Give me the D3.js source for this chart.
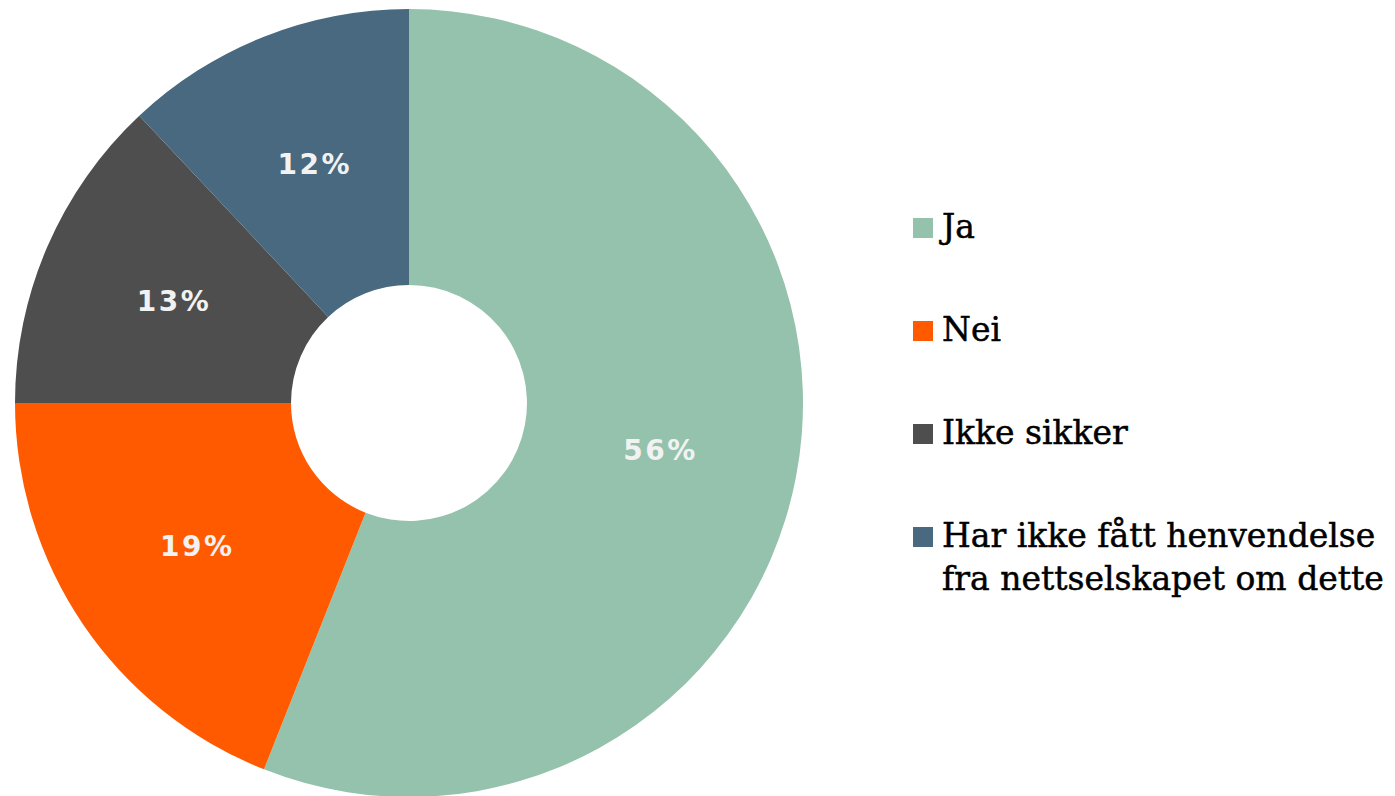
<!DOCTYPE html>
<html lang="no">
<head>
  <meta charset="UTF-8" />
  <title>Henvendelse fra nettselskapet</title>
  <script src="https://d3js.org/d3.v7.min.js"></script>
  <style>
    html, body {
      margin: 0;
      padding: 0;
      background: #fff;
      overflow: hidden;
    }
    .slice-label {
      font-family: "DejaVu Sans", sans-serif;
      font-weight: bold;
      fill: #f2f2f2;
      letter-spacing: 2.5px;
    }
    .legend-text {
      font-family: "DejaVu Serif", serif;
      fill: #000;
      stroke: #000;
      stroke-width: 0.5px;
    }
  </style>
</head>
<body>
  <div id="chart"></div>

  <script>
    // ---- data ----
    const categories = ["Ja", "Nei", "Ikke sikker", "Har ikke fått henvendelse fra nettselskapet om dette"];
    const values = [56, 19, 13, 12];
    const colors = ["#94c2ad", "#ff5a00", "#4e4e4e", "#48697f"];
    // legend text split into lines as in the original
    const legendLines = [
      ["Ja"],
      ["Nei"],
      ["Ikke sikker"],
      ["Har ikke fått henvendelse", "fra nettselskapet om dette"]
    ];

    const width = 1395, height = 796;

    const svg = d3.select("#chart")
      .append("svg")
      .attr("width", width)
      .attr("height", height);

    // donut geometry
    const cx = 409, cy = 403;
    const outerR = 394, innerR = 118;

    const pie = d3.pie().sort(null).value(d => d.value);
    const arc = d3.arc().innerRadius(innerR).outerRadius(outerR);

    const data = categories.map((c, i) => ({ name: c, value: values[i], color: colors[i] }));
    const arcs = pie(data);

    const g = svg.append("g").attr("transform", `translate(${cx},${cy})`);

    g.selectAll("path")
      .data(arcs)
      .enter()
      .append("path")
      .attr("d", arc)
      .attr("fill", d => d.data.color);

    // percentage labels at arc centroids
    g.selectAll("text")
      .data(arcs)
      .enter()
      .append("text")
      .attr("class", "slice-label")
      .attr("x", d => arc.centroid(d)[0])
      .attr("y", d => arc.centroid(d)[1])
      .attr("text-anchor", "middle")
      .attr("dominant-baseline", "central")
      .attr("font-size", 28)
      .text(d => d.data.value + "%");

    // ---- legend ----
    const legend = svg.append("g").attr("transform", "translate(913,218)");
    const rowGap = 103, lineGap = 43;

    const item = legend.selectAll("g")
      .data(data)
      .enter()
      .append("g")
      .attr("transform", (d, i) => `translate(0,${i * rowGap})`);

    item.append("rect")
      .attr("width", 20)
      .attr("height", 20)
      .attr("fill", d => d.color);

    item.append("text")
      .attr("class", "legend-text")
      .attr("font-size", 33)
      .selectAll("tspan")
      .data((d, i) => legendLines[i])
      .enter()
      .append("tspan")
      .attr("x", 29)
      .attr("y", (t, j) => 20 + j * lineGap)
      .text(t => t);
  </script>
</body>
</html>
